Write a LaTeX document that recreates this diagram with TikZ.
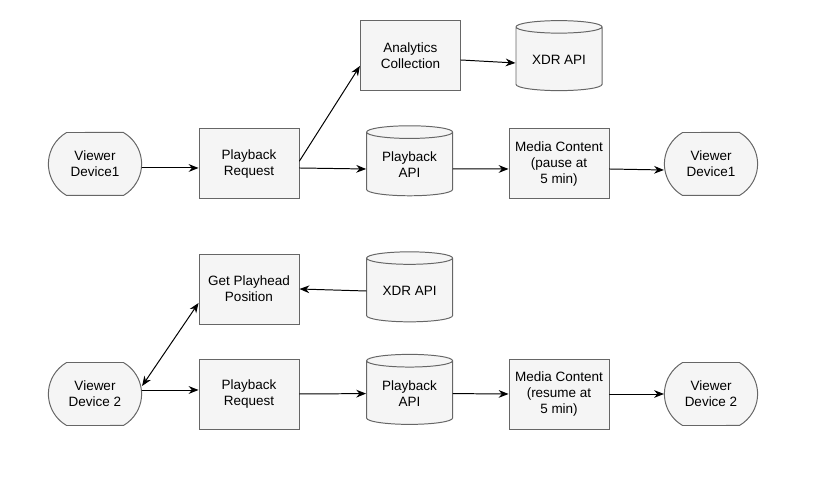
\documentclass[tikz,border=0pt]{standalone}
\usepackage{fontspec}
\setmainfont{Liberation Sans}
\usetikzlibrary{arrows.meta}
\usetikzlibrary{shapes.geometric,shapes.misc}
\definecolor{boxfill}{HTML}{F5F5F5}
\definecolor{boxline}{HTML}{666666}
\tikzset{>={Stealth[length=7pt,width=5.5pt]},
  box/.style={draw=boxline, fill=boxfill, line width=0.7pt, align=center,
    font=\fontsize{9.6}{11.4}\selectfont,
    minimum width=2.5cm, minimum height=1.75cm, inner sep=1pt},
  device/.style={box, rounded rectangle, rounded rectangle arc length=120,
    minimum width=2.4cm, minimum height=1.575cm},
  store/.style={box, cylinder, shape border rotate=90, aspect=0.22,
    minimum width=2.15cm, minimum height=1.75cm},
  flow/.style={->, line width=0.7pt}}

\begin{document}
\begin{tikzpicture}[line cap=round]

    \useasboundingbox (0,0) rectangle (20.9,12.075);

    % first session: pause
    \node [device] (viewerA) at (2.375,7.975) {Viewer\\Device1};
    \node [box] (requestA) at (6.225,7.975) {Playback\\Request};
    \node [box] (analytics) at (10.26,10.675) {Analytics\\Collection};
    \node [store] (xdrA) at (13.975,10.58) {XDR API};
    \node [store] (apiA) at (10.24,7.95) {Playback\\API};
    \node [box] (mediaA) at (13.975,7.975) {Media Content\\(pause at\\5 min)};
    \node [device] (viewerB) at (17.775,7.975) {Viewer\\Device1};

    % second session: resume
    \node [box] (playhead) at (6.225,4.85) {Get Playhead\\Position};
    \node [store] (xdrB) at (10.24,4.8) {XDR API};
    \node [device] (viewerC) at (2.375,2.225) {Viewer\\Device 2};
    \node [box] (requestB) at (6.225,2.225) {Playback\\Request};
    \node [store] (apiB) at (10.24,2.235) {Playback\\API};
    \node [box] (mediaB) at (13.975,2.225) {Media Content\\(resume at\\5 min)};
    \node [device] (viewerD) at (17.775,2.225) {Viewer\\Device 2};

    \draw [flow] ([yshift=-0.1cm]viewerA.east) -- ([yshift=-0.1cm]requestA.west);
    \draw [flow] ([yshift=0.075cm]requestA.east) -- ([yshift=-0.25cm]analytics.west);
    \draw [flow] ([yshift=-0.1cm]requestA.east) -- ([yshift=-0.1cm]apiA.west);
    \draw [flow] ([yshift=-0.1cm]analytics.east) -- ([yshift=-0.08cm]xdrA.west);
    \draw [flow] ([yshift=-0.1cm]apiA.east) -- ([yshift=-0.125cm]mediaA.west);
    \draw [flow] ([yshift=-0.125cm]mediaA.east) -- ([yshift=-0.15cm]viewerB.west);

    \draw [flow] (xdrB.west) -- (playhead.east);
    \draw [flow, <->] ([yshift=0.2cm]viewerC.east) -- ([yshift=-0.35cm]playhead.west);
    \draw [flow] ([yshift=0.1cm]viewerC.east) -- ([yshift=0.1cm]requestB.west);
    \draw [flow] (requestB.east) -- (apiB.west);
    \draw [flow] (apiB.east) -- (mediaB.west);
    \draw [flow] (mediaB.east) -- (viewerD.west);

\end{tikzpicture}
\end{document}
